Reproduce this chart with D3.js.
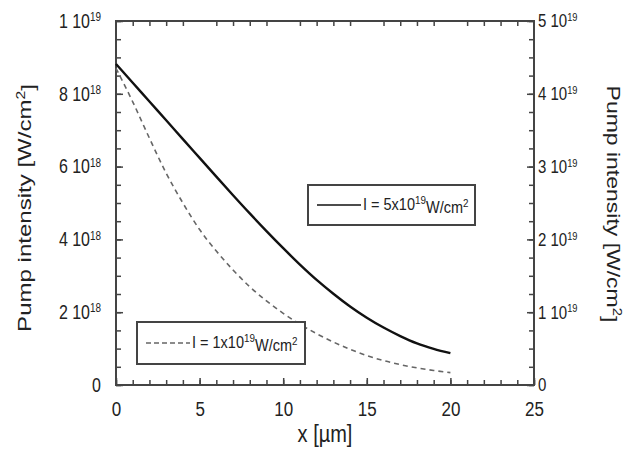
<!DOCTYPE html>
<html>
<head>
<meta charset="utf-8">
<script src="https://cdn.jsdelivr.net/npm/d3@7"></script>
<style>
  body { margin: 0; background: #fff; }
  svg { display: block; font-family: Arial, "Liberation Sans", sans-serif; }
</style>
</head>
<body>
<svg id="chart" width="629" height="452"></svg>
<script>
// DATA
// x positions in µm
const xValues = [0, 1, 2, 3, 4, 5, 6, 7, 8, 9, 10, 11, 12, 13, 14, 15, 16, 17, 18, 19, 20];
// I = 5x10^19 W/cm2, right axis, in units of 1e19 W/cm2
const pumpHigh = [4.41, 4.152, 3.894, 3.636, 3.378, 3.12, 2.862, 2.607, 2.357, 2.114, 1.879,
  1.654, 1.444, 1.254, 1.079, 0.924, 0.789, 0.672, 0.572, 0.497, 0.437];
// I = 1x10^19 W/cm2, left axis, in units of 1e18 W/cm2
const pumpLow = [8.7, 7.78, 6.78, 5.82, 5.0, 4.27, 3.68, 3.16, 2.7, 2.31, 1.97,
  1.67, 1.41, 1.18, 0.98, 0.81, 0.67, 0.56, 0.47, 0.4, 0.34];

const xTicks = [0, 5, 10, 15, 20, 25];
const leftTicks = [0, 2, 4, 6, 8, 10];   // 1e18
const rightTicks = [0, 1, 2, 3, 4, 5];   // 1e19

// CANVAS SETUP
const svg = d3.select("#chart");
const margin = { top: 21, right: 95, bottom: 67, left: 116 };
const width = 629 - margin.left - margin.right,
  height = 452 - margin.top - margin.bottom;

const x = d3.scaleLinear().domain([0, 25]).range([margin.left, margin.left + width]);
const yL = d3.scaleLinear().domain([0, 10]).range([margin.top + height, margin.top]);
const yR = d3.scaleLinear().domain([0, 5]).range([margin.top + height, margin.top]);

const axisColor = "#444";
const stretch = 1.22; // the source figure is a bit taller than wide

function styleAxis(g) {
  g.select(".domain").remove();
  g.selectAll("line").attr("stroke", axisColor).attr("stroke-width", 1.5);
  g.selectAll("text").attr("fill", "#222");
}

function addSup(g, fmt) {
  g.selectAll(".tick text").each(function (d) {
    const t = d3.select(this).text("");
    const parts = fmt(d);
    t.append("tspan").text(parts[0]);
    if (parts[1]) {
      t.append("tspan").attr("dy", "-0.55em").attr("font-size", "0.62em").text(parts[1]);
    }
  });
}

// minor ticks
const minorX = d3.range(0, 26);
const minorY = d3.range(0, 10.01, 0.5);

svg.append("g")
  .attr("transform", `translate(0,${margin.top + height})`)
  .call(d3.axisBottom(x).tickValues(minorX).tickSize(-5).tickFormat(""))
  .call(styleAxis);

svg.append("g")
  .attr("transform", `translate(0,${margin.top})`)
  .call(d3.axisTop(x).tickValues(minorX.filter((v) => v % 5 !== 0)).tickSize(-5).tickFormat(""))
  .call(styleAxis);

svg.append("g")
  .attr("transform", `translate(${margin.left},0)`)
  .call(d3.axisLeft(yL).tickValues(minorY).tickSize(-5).tickFormat(""))
  .call(styleAxis);

svg.append("g")
  .attr("transform", `translate(${margin.left + width},0)`)
  .call(d3.axisRight(yL).tickValues(minorY).tickSize(-5).tickFormat(""))
  .call(styleAxis);

// major ticks + labels
svg.append("g")
  .attr("transform", `translate(0,${margin.top + height})`)
  .call(d3.axisBottom(x).tickValues(xTicks).tickSize(-7).tickPadding(13).tickFormat(d3.format("d")))
  .call(styleAxis)
  .call((g) => g.selectAll("text").attr("font-size", 17).attr("transform", `scale(1,${stretch})`));

svg.append("g")
  .attr("transform", `translate(${margin.left},0)`)
  .call(d3.axisLeft(yL).tickValues(leftTicks).tickSize(-7).tickPadding(15))
  .call(styleAxis)
  .call((g) => g.selectAll("text").attr("font-size", 16).attr("transform", `scale(1,${stretch})`))
  .call((g) => addSup(g, (d) => (d === 0 ? ["0"] : d === 10 ? ["1 10", "19"] : [`${d} 10`, "18"])));

svg.append("g")
  .attr("transform", `translate(${margin.left + width},0)`)
  .call(d3.axisRight(yR).tickValues(rightTicks).tickSize(-7).tickPadding(4))
  .call(styleAxis)
  .call((g) => g.selectAll("text").attr("font-size", 15).attr("transform", `scale(1,${stretch})`))
  .call((g) => addSup(g, (d) => (d === 0 ? ["0"] : [`${d} 10`, "19"])));

// frame
svg.append("rect")
  .attr("x", margin.left)
  .attr("y", margin.top)
  .attr("width", width)
  .attr("height", height)
  .attr("fill", "none")
  .attr("stroke", axisColor)
  .attr("stroke-width", 2);

// CURVES
const lineHigh = d3.line()
  .x((d, i) => x(xValues[i]))
  .y((d) => yR(d))
  .curve(d3.curveMonotoneX);

const lineLow = d3.line()
  .x((d, i) => x(xValues[i]))
  .y((d) => yL(d))
  .curve(d3.curveMonotoneX);

svg.append("path")
  .datum(pumpLow)
  .attr("d", lineLow)
  .attr("fill", "none")
  .attr("stroke", "#666")
  .attr("stroke-width", 1.6)
  .attr("stroke-dasharray", "5,4");

svg.append("path")
  .datum(pumpHigh)
  .attr("d", lineHigh)
  .attr("fill", "none")
  .attr("stroke", "#111")
  .attr("stroke-width", 2.4);

// AXIS TITLES
svg.append("text")
  .attr("transform", `translate(${margin.left + width / 2},442) scale(1,${stretch})`)
  .attr("text-anchor", "middle")
  .attr("font-size", 20)
  .attr("fill", "#222")
  .text("x [µm]");

function yTitle(transform, len) {
  const t = svg.append("text")
    .attr("transform", transform)
    .attr("text-anchor", "middle")
    .attr("font-size", 19)
    .attr("fill", "#222");
  t.append("tspan").text("Pump intensity [W/cm");
  t.append("tspan").attr("dy", "-0.5em").attr("font-size", "0.65em").text("2");
  t.append("tspan").attr("dy", "0.5em").text("]");
  t.attr("transform", transform + ` scale(${len / t.node().getComputedTextLength()},1)`);
}

yTitle("translate(31,208) rotate(-90)", 248);
yTitle("translate(607,204) rotate(90)", 237);

// LEGENDS
function legend(bx, by, bw, bh, dash, stroke, sw, label) {
  const g = svg.append("g");
  g.append("rect")
    .attr("x", bx).attr("y", by).attr("width", bw).attr("height", bh)
    .attr("fill", "#fff").attr("stroke", "#444").attr("stroke-width", 2);
  g.append("line")
    .attr("x1", bx + 9).attr("x2", bx + 53)
    .attr("y1", by + bh / 2).attr("y2", by + bh / 2)
    .attr("stroke", stroke).attr("stroke-width", sw)
    .attr("stroke-dasharray", dash);
  const t = g.append("text")
    .attr("transform", `translate(${bx + 55},${by + bh / 2 + 5}) scale(1,1.1)`)
    .attr("font-size", 14.5).attr("fill", "#222");
  t.append("tspan").text(`I = ${label}x10`);
  t.append("tspan").attr("dy", "-0.55em").attr("font-size", "0.68em").text("19");
  t.append("tspan").attr("dy", "0.55em").text("W/cm");
  t.append("tspan").attr("dy", "-0.55em").attr("font-size", "0.68em").text("2");
}

legend(308, 185, 167, 40, null, "#111", 1.3, "5");
legend(137, 322, 168, 42, "5,3", "#666", 1.3, "1");
</script>
</body>
</html>
